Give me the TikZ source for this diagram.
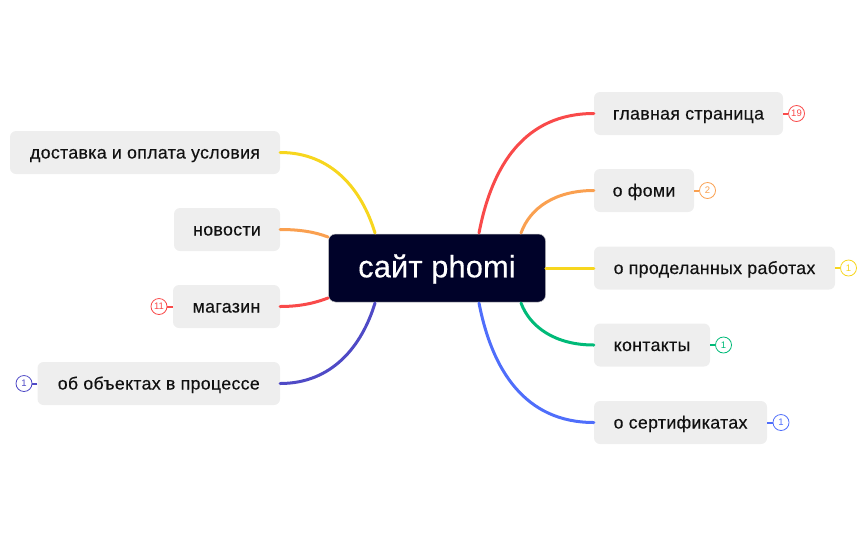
\documentclass[tikz,border=0pt]{standalone}
\usepackage{fontspec}
\setmainfont{Liberation Sans}
\newfontfamily\topicfont{Liberation Sans}[FakeBold=0.35,LetterSpace=2]
\newfontfamily\rootfont{Liberation Sans}[FakeBold=0.4,LetterSpace=0.5]
\definecolor{cred}{HTML}{F94A4A}
\definecolor{corange}{HTML}{FAA050}
\definecolor{cyellow}{HTML}{F7D61E}
\definecolor{cgreen}{HTML}{00BA78}
\definecolor{cblue}{HTML}{4F6EFB}
\definecolor{cpurple}{HTML}{4F4AC6}
\definecolor{cbox}{HTML}{EEEEEE}
\definecolor{croot}{HTML}{000229}
\definecolor{ctext}{HTML}{111111}
\tikzset{
  topicbox/.style={fill=cbox,rounded corners=6pt,inner sep=0pt,minimum height=43pt,minimum width=#1,text=ctext,font=\topicfont\fontsize{17.7}{20}\selectfont,text height=14pt,text depth=2pt},
  rootbox/.style={fill=croot,draw=black!25,line width=0.5pt,rounded corners=7pt,inner sep=0pt,minimum width=217pt,minimum height=68pt,text=white,font=\rootfont\fontsize{30.8}{35}\selectfont,text height=22pt,text depth=3.4pt},
  branch/.style={line width=3pt,line cap=round},
  stub/.style={line width=2pt},
  badge/.style={circle,draw=#1,line width=0.8pt,fill=white,minimum size=16pt,inner sep=0pt,text=#1,font=\fontsize{9.5}{10}\selectfont},
}
\begin{document}
\begin{tikzpicture}[x=1pt,y=-1pt]
\useasboundingbox (0,0) rectangle (866,536);
\node[rootbox] (root) at (437,268) {сайт phomi};
% right topics
\node[topicbox=189pt] (glav) at (688.5,113.5) {главная страница};
\node[topicbox=100pt] (fomi) at (644,190.5) {о фоми};
\node[topicbox=241pt] (prod) at (714.5,268) {о проделанных работах};
\node[topicbox=116pt] (kont) at (652,345) {контакты};
\node[topicbox=173pt] (sert) at (680.5,422.5) {о сертификатах};
% left topics
\node[topicbox=270pt] (dost) at (145,152.5) {доставка и оплата условия};
\node[topicbox=106pt] (novo) at (227,229.5) {новости};
\node[topicbox=107pt] (maga) at (226.5,306.5) {магазин};
\node[topicbox=242.5pt] (obje) at (158.75,383.5) {об объектах в процессе};
% badges
\node[badge=cred] (b1) at (796.5,113.5) {19};
\node[badge=corange] (b2) at (707.5,190.5) {2};
\node[badge=cyellow] (b3) at (848.5,268) {1};
\node[badge=cgreen] (b4) at (723.5,345) {1};
\node[badge=cblue] (b5) at (781,422.5) {1};
\node[badge=cred] (b6) at (159,306.5) {11};
\node[badge=cpurple] (b7) at (24,383.5) {1};
% connector ends on the root
\coordinate (rt1) at (479,233);
\coordinate (rt2) at (521,233);
\coordinate (rb2) at (521,303);
\coordinate (rb1) at (479,303);
\coordinate (lt1) at (375,233);
\coordinate (lt2) at (328,237);
\coordinate (lb2) at (328,298);
\coordinate (lb1) at (375,303);
% branches
\draw[branch,cred] (rt1) .. controls (492,165) and (525,113.5) .. (glav.west);
\draw[branch,corange] (rt2) .. controls (530,208) and (555,190.5) .. (fomi.west);
\draw[branch,cyellow] (root.east) -- (prod.west);
\draw[branch,cgreen] (rb2) .. controls (530,327) and (555,345) .. (kont.west);
\draw[branch,cblue] (rb1) .. controls (492,370) and (525,422.5) .. (sert.west);
\draw[branch,cyellow] (lt1) .. controls (362,190) and (332,152.5) .. (dost.east);
\draw[branch,corange] (lt2) .. controls (315,232) and (300,229.5) .. (novo.east);
\draw[branch,cred] (lb2) .. controls (315,303) and (300,306.5) .. (maga.east);
\draw[branch,cpurple] (lb1) .. controls (362,346) and (332,383.5) .. (obje.east);
% badge stubs
\draw[stub,cred] (glav.east) -- (b1.west);
\draw[stub,corange] (fomi.east) -- (b2.west);
\draw[stub,cyellow] (prod.east) -- (b3.west);
\draw[stub,cgreen] (kont.east) -- (b4.west);
\draw[stub,cblue] (sert.east) -- (b5.west);
\draw[stub,cred] (maga.west) -- (b6.east);
\draw[stub,cpurple] (obje.west) -- (b7.east);
\end{tikzpicture}
\end{document}
